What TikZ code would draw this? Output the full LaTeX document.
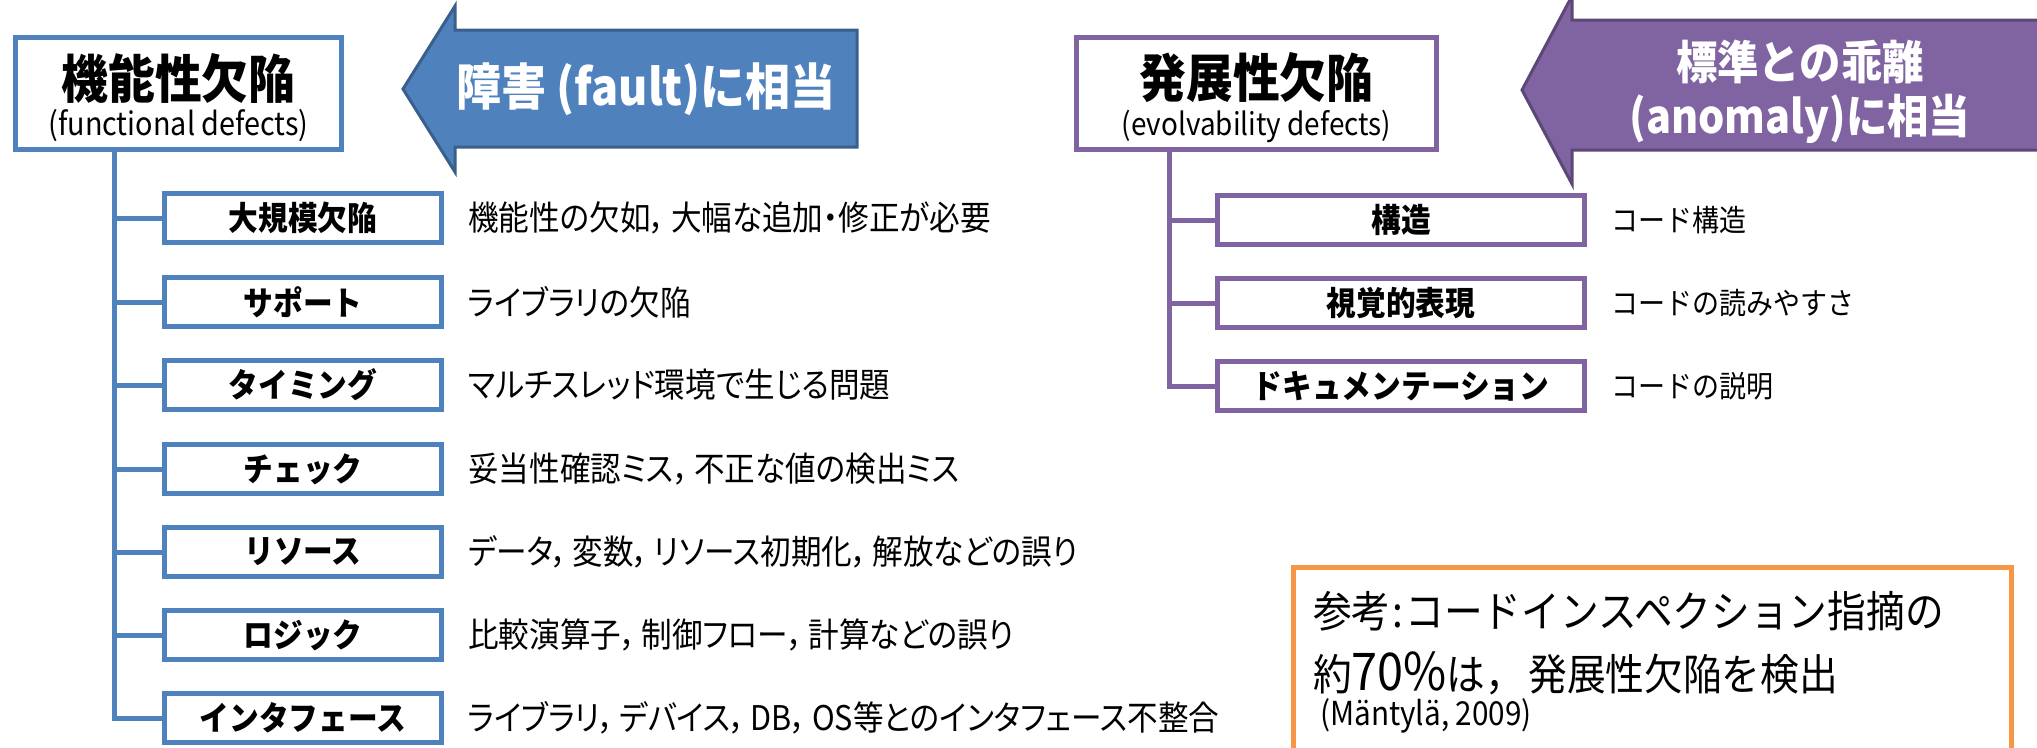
\documentclass[tikz,border=0pt]{standalone}
\usepackage{fontspec}
\newfontfamily\jp[FakeStretch=0.9]{Noto Sans CJK JP}
\newfontfamily\jpp[FakeStretch=0.9, RawFeature={+palt}]{Noto Sans CJK JP}
\definecolor{fblue}{HTML}{4F81BD}
\definecolor{fbluedark}{HTML}{3A5F8B}
\definecolor{fpurple}{HTML}{8064A2}
\definecolor{fpurpledark}{HTML}{5C4776}
\definecolor{forange}{HTML}{F79646}
\newcommand{\fs}[1]{\fontsize{#1}{#1}\selectfont}
\newcommand{\cm}{，\hspace{5pt}}
\begin{document}
\begin{tikzpicture}[x=1pt,y=-1pt,
  every node/.style={font=\jp, inner sep=0pt},
  mainbox/.style={draw=#1, line width=5pt, fill=white, minimum width=326pt, minimum height=112pt},
  subbox/.style={draw=#1, line width=5pt, fill=white, minimum height=49pt, font=\jp\bfseries\fs{33}},
  desc/.style={anchor=west, font=\jpp\fs{34}},
  conn/.style={draw=#1, line width=5pt, line cap=rect},
  bigarrow/.style={fill=#1, line width=3pt, line join=miter},
  arrowtext/.style={text=white, font=\jp\bfseries\fs{50}, align=center}]
\clip (0,0) rectangle (2037,747);
\useasboundingbox (0,0) rectangle (2037,747);

% ---------------- left: functional defects
\node[mainbox=fblue] (fun) at (178.5,93.5) {};
\node[font=\jp\bfseries\fs{52}] (funt) at (178.5,78) {機能性欠陥};
\node[font=\jp\fs{32}] (funs) at (178.5,126) {(functional defects)};

\draw[bigarrow=fblue, draw=fbluedark] (455,30) -- (857,30) -- (857,147) -- (455,147) -- (455,172) -- (403,89) -- (455,6) -- cycle;
\node[arrowtext] (fault) at (646,89) {障害 (fault)に相当};

\path (fun.south west) ++(101,-2.5) coordinate (ltrunk);

\foreach \n/\y/\lab/\txt in {
  l1/218/大規模欠陥/機能性の欠如\cm 大幅な追加・修正が必要,
  l2/302/サポート/ライブラリの欠陥,
  l3/385/タイミング/マルチスレッド環境で生じる問題,
  l4/469/チェック/妥当性確認ミス\cm 不正な値の検出ミス,
  l5/552/リソース/データ\cm 変数\cm リソース初期化\cm 解放などの誤り,
  l6/635/ロジック/比較演算子\cm 制御フロー\cm 計算などの誤り,
  l7/718/インタフェース/ライブラリ\cm デバイス\cm DB\cm OS等とのインタフェース不整合}{
  \draw[conn=fblue] (ltrunk) |- (162,\y) coordinate (\n c);
  \node[subbox=fblue, minimum width=277pt] (\n) at (303,\y) {\lab};
  \node[desc] (\n d) at (468,\y) {\txt};
}

% ---------------- right: evolvability defects
\node[mainbox=fpurple, minimum width=360pt] (evo) at (1256.5,93.5) {};
\node[font=\jp\bfseries\fs{52}] (evot) at (1256.5,78) {発展性欠陥};
\node[font=\jp\fs{31}] (evos) at (1256.5,126) {(evolvability defects)};

\draw[bigarrow=fpurple, draw=fpurpledark] (1572,20) -- (2045,20) -- (2045,150) -- (1572,150) -- (1572,184) -- (1522,90) -- (1572,-4) -- cycle;
\node[arrowtext, font=\jp\bfseries\fs{46}] (anom) at (1800,92) {標準との乖離\\[8pt](anomaly)に相当};

\path (evo.south west) ++(95,-2.5) coordinate (rtrunk);

\foreach \n/\y/\lab/\txt in {
  r1/220/構造/コード構造,
  r2/303/視覚的表現/コードの読みやすさ,
  r3/386/ドキュメンテーション/コードの説明}{
  \draw[conn=fpurple] (rtrunk) |- (1215,\y) coordinate (\n c);
  \node[subbox=fpurple, minimum width=367pt] (\n) at (1401,\y) {\lab};
  \node[desc, font=\jp\fs{30}] (\n d) at (1611,\y) {\txt};
}

% ---------------- reference note
\draw[draw=forange, line width=5pt, fill=white] (1293,567) rectangle (2011,770);
\node[anchor=west, font=\jp\fs{43}] (note1) at (1313,611) {参考\hspace{2pt}:\hspace{2pt}コードインスペクション指摘の};
\node[anchor=west, font=\jp\fs{43}] (note2) at (1313,673) {約{\fs{52}70\%}は，\hspace{4pt}発展性欠陥を検出};
\node[anchor=west, font=\jp\fs{33}] (note3) at (1320,716) {(Mäntylä, 2009)};
\end{tikzpicture}
\end{document}
